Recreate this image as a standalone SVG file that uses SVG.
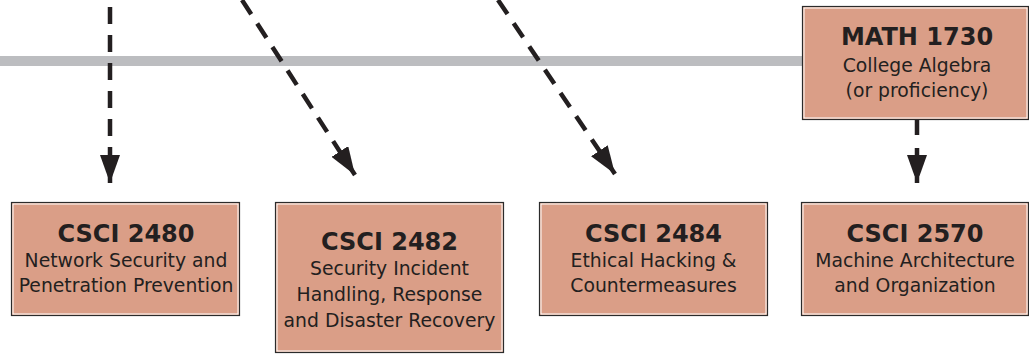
<svg xmlns="http://www.w3.org/2000/svg" width="1029" height="354" viewBox="0 0 1029 354">
<style>
.box{fill:#da9e87;stroke:#2b2b2b;stroke-width:1.2}
.inner{fill:none;stroke:#ffffff;stroke-width:1}
.t{font-family:"DejaVu Sans",sans-serif;font-weight:bold;font-size:24px;fill:#231f20;text-anchor:middle}
.s{font-family:"DejaVu Sans",sans-serif;font-size:18.8px;fill:#231f20;text-anchor:middle}
.dash{stroke:#231f20;stroke-width:4.5;fill:none;stroke-dasharray:17 11}
</style>
<defs>
<marker id="ah" markerUnits="userSpaceOnUse" markerWidth="28" markerHeight="20" viewBox="0 0 28 20" refX="28" refY="10" orient="auto">
<path d="M0,0 L28,10 L0,20 z" fill="#231f20"/>
</marker>
</defs>
<rect x="0" y="56" width="805" height="10" fill="#bcbdc0"/>
<g id="connectors">
<line class="dash" x1="110" y1="7" x2="110" y2="183" marker-end="url(#ah)"/>
<line class="dash" x1="242" y1="0" x2="355" y2="175" marker-end="url(#ah)"/>
<line class="dash" x1="498" y1="0" x2="615" y2="174" marker-end="url(#ah)"/>
<line class="dash" style="stroke-dasharray:16 13" x1="917" y1="119" x2="917" y2="183" marker-end="url(#ah)"/>
</g>
<g id="math1730">
<rect class="box" x="802.5" y="6.5" width="226" height="113"/>
<rect class="inner" x="804" y="8" width="223" height="110"/>
<text class="t" x="917" y="45">MATH 1730</text>
<text class="s" x="917" y="72">College Algebra</text>
<text class="s" x="917" y="97">(or proficiency)</text>
</g>
<g id="csci2480">
<rect class="box" x="11.5" y="202.5" width="228" height="113"/>
<rect class="inner" x="13" y="204" width="225" height="110"/>
<text class="t" x="126" y="242">CSCI 2480</text>
<text class="s" x="126" y="267">Network Security and</text>
<text class="s" x="126" y="292">Penetration Prevention</text>
</g>
<g id="csci2482">
<rect class="box" x="275.5" y="202.5" width="228" height="150"/>
<rect class="inner" x="277" y="204" width="225" height="147"/>
<text class="t" x="389.5" y="250">CSCI 2482</text>
<text class="s" x="389.5" y="275">Security Incident</text>
<text class="s" x="389.5" y="301">Handling, Response</text>
<text class="s" x="389.5" y="327">and Disaster Recovery</text>
</g>
<g id="csci2484">
<rect class="box" x="539.5" y="202.5" width="228" height="113"/>
<rect class="inner" x="541" y="204" width="225" height="110"/>
<text class="t" x="653.5" y="242">CSCI 2484</text>
<text class="s" x="653.5" y="267">Ethical Hacking &amp;</text>
<text class="s" x="653.5" y="292">Countermeasures</text>
</g>
<g id="csci2570">
<rect class="box" x="801.5" y="202.5" width="227" height="113"/>
<rect class="inner" x="803" y="204" width="224" height="110"/>
<text class="t" x="915" y="242">CSCI 2570</text>
<text class="s" x="915" y="267">Machine Architecture</text>
<text class="s" x="915" y="292">and Organization</text>
</g>
</svg>
